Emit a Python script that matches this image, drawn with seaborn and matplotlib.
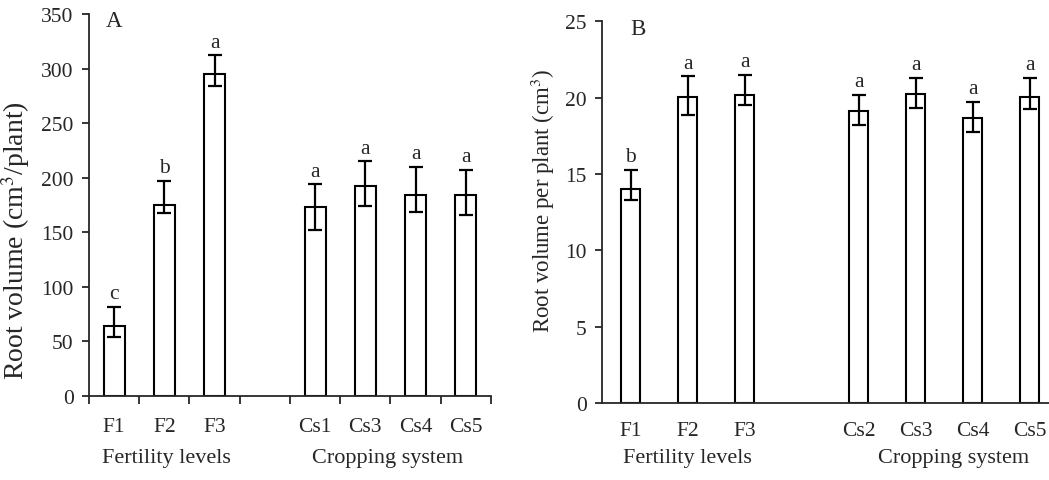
import numpy as np
import pandas as pd
import matplotlib
matplotlib.use("Agg")
import matplotlib.pyplot as plt
import seaborn as sns

sns.set_style("ticks")
plt.rcParams["font.family"] = ["Liberation Serif", "DejaVu Serif"]
plt.rcParams["mathtext.fontset"] = "stix"

# ---- data ----
order_a = ["F1", "F2", "F3", "", "Cs1", "Cs3", "Cs4", "Cs5"]
treat_a = ["F1", "F2", "F3", "Cs1", "Cs3", "Cs4", "Cs5"]
vol_a = [64, 175, 295, 173, 192, 184, 184]
err_lo_a = [10, 7, 11, 21, 18, 15, 18]
err_hi_a = [18, 22, 17, 21, 23, 26, 23]
letters_a = ["c", "b", "a", "a", "a", "a", "a"]

order_b = ["F1", "F2", "F3", "", "Cs2", "Cs3", "Cs4", "Cs5"]
treat_b = ["F1", "F2", "F3", "Cs2", "Cs3", "Cs4", "Cs5"]
vol_b = [14.0, 20.05, 20.15, 19.15, 20.25, 18.7, 20.05]
err_lo_b = [0.7, 1.2, 0.65, 0.95, 0.95, 0.95, 0.8]
err_hi_b = [1.3, 1.35, 1.35, 1.05, 1.05, 1.05, 1.25]
letters_b = ["b", "a", "a", "a", "a", "a", "a"]

groups = ["Fertility levels", "Cropping system"]

FS = 15.5

fig = plt.figure(figsize=(10.49, 4.81), dpi=100)
ax_a = fig.add_axes([0.0848, 0.1746, 0.3832, 0.7942])
ax_b = fig.add_axes([0.5739, 0.1595, 0.4261, 0.7941])


def draw_panel(ax, order, treat, vals, lo, hi, letters, width):
    df = pd.DataFrame({"treatment": treat, "value": vals})
    sns.barplot(data=df, x="treatment", y="value", order=order, ax=ax,
                color="white", edgecolor="black", linewidth=1.5,
                saturation=1, width=width, errorbar=None)
    pos = [order.index(t) for t in treat]
    ax.errorbar(pos, vals, yerr=[lo, hi], fmt="none", ecolor="black",
                elinewidth=1.6, capsize=5, capthick=1.6)
    for p, v, h, l in zip(pos, vals, hi, letters):
        ax.annotate(l, (p, v + h), xytext=(0, 9.5), textcoords="offset points",
                    ha="center", va="center", fontsize=FS)
    ax.set_xlabel("")
    sns.despine(ax=ax)
    for s in ["left", "bottom"]:
        ax.spines[s].set_linewidth(1.3)
    ax.tick_params(axis="y", direction="out", length=5, width=1.3,
                   pad=6, labelsize=FS)
    return pos


draw_panel(ax_a, order_a, treat_a, vol_a, err_lo_a, err_hi_a, letters_a, 0.42)
ax_a.set_xlim(-0.5, 7.5)
ax_a.set_ylim(0, 350)
ax_a.set_yticks(np.arange(0, 351, 50))
ax_a.set_xticks(np.arange(-0.5, 7.6, 1.0))
ax_a.set_xticklabels([])
ax_a.tick_params(axis="x", which="major", direction="out", length=6, width=1.3)
ax_a.set_xticks(range(len(order_a)), minor=True)
ax_a.set_xticklabels(order_a, minor=True, fontsize=FS)
ax_a.tick_params(axis="x", which="minor", length=0, pad=15)
ax_a.set_ylabel("Root volume (cm$^3$/plant)", fontsize=20)
ax_a.yaxis.set_label_coords(-0.142, 0.41)
ax_a.text(1.05, -0.16, groups[0], transform=ax_a.get_xaxis_transform(),
          ha="center", va="center", fontsize=16)
ax_a.text(5.45, -0.16, groups[1], transform=ax_a.get_xaxis_transform(),
          ha="center", va="center", fontsize=16)
ax_a.text(0.062, 0.983, "A", transform=ax_a.transAxes, fontsize=FS + 1,
          ha="center", va="center")

draw_panel(ax_b, order_b, treat_b, vol_b, err_lo_b, err_hi_b, letters_b, 0.32)
ax_b.set_xlim(-0.5, 7.34)
ax_b.set_ylim(0, 25)
ax_b.set_yticks(np.arange(0, 26, 5))
ax_b.set_xticks(range(len(order_b)))
ax_b.set_xticklabels(order_b, fontsize=FS)
ax_b.tick_params(axis="x", length=0, pad=13)
ax_b.set_ylabel("Root volume per plant (cm$^3$)", fontsize=16.5)
ax_b.yaxis.set_label_coords(-0.10, 0.534)
ax_b.text(0.99, -0.141, groups[0], transform=ax_b.get_xaxis_transform(),
          ha="center", va="center", fontsize=16)
ax_b.text(5.66, -0.141, groups[1], transform=ax_b.get_xaxis_transform(),
          ha="center", va="center", fontsize=16)
ax_b.text(0.0805, 0.982, "B", transform=ax_b.transAxes, fontsize=FS + 1,
          ha="center", va="center")

fig.savefig("out.png", dpi=100)
